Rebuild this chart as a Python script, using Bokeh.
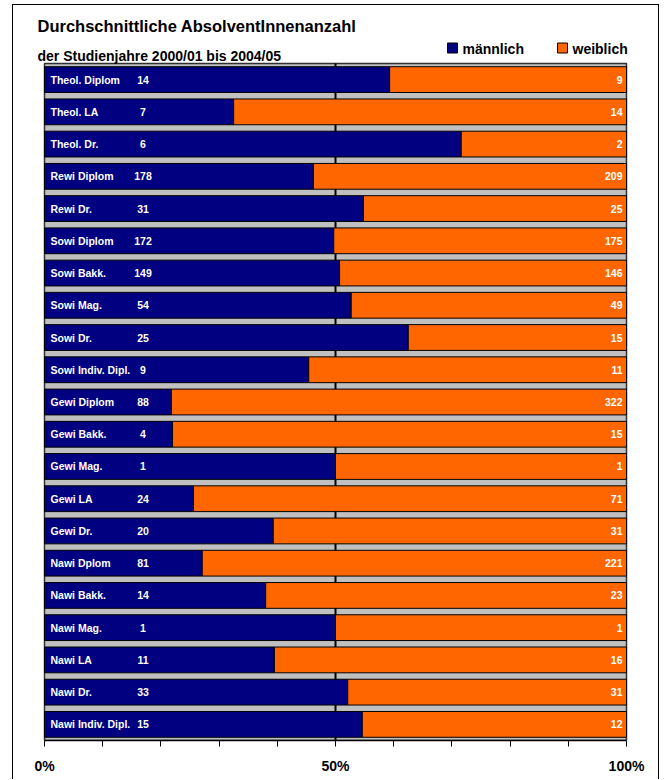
from bokeh.plotting import figure
from bokeh.models import Range1d, FixedTicker, ColumnDataSource
from bokeh.core.properties import value
from bokeh.embed import file_html
from bokeh.resources import INLINE

# ---------------- data ----------------
categories = ["Theol. Diplom", "Theol. LA", "Theol. Dr.", "Rewi Diplom", "Rewi Dr.",
              "Sowi Diplom", "Sowi Bakk.", "Sowi Mag.", "Sowi Dr.", "Sowi Indiv. Dipl.",
              "Gewi Diplom", "Gewi Bakk.", "Gewi Mag.", "Gewi LA", "Gewi Dr.",
              "Nawi Dplom", "Nawi Bakk.", "Nawi Mag.", "Nawi LA", "Nawi Dr.", "Nawi Indiv. Dipl."]
male = [14, 7, 6, 178, 31, 172, 149, 54, 25, 9, 88, 4, 1, 24, 20, 81, 14, 1, 11, 33, 15]
female = [9, 14, 2, 209, 25, 175, 146, 49, 15, 11, 322, 15, 1, 71, 31, 221, 23, 1, 16, 31, 12]
# share of male graduates in percent, as drawn (bars use unrounded averages)
male_share = [59.3, 32.5, 71.6, 46.2, 54.8, 49.7, 50.7, 52.7, 62.5, 45.4,
              21.8, 22.0, 50.0, 25.6, 39.3, 27.1, 38.0, 50.0, 39.5, 52.1, 54.6]
tick_values = [0, 10, 20, 30, 40, 50, 60, 70, 80, 90, 100]
tick_labels = {0: "0%", 50: "50%", 100: "100%"}
series_names = ["männlich", "weiblich"]
title_text = "Durchschnittliche AbsolventInnenanzahl"
subtitle_text = "der Studienjahre 2000/01 bis 2004/05"

NAVY = "#000080"
ORANGE = "#FF6600"
GRAY = "#C0C0C0"
FONT = "Liberation Sans"

# ---------------- geometry (page pixels) ----------------
FIG_LEFT, FIG_TOP = 13, 5          # canvas origin on page (margin + 1px border)
FIG_W, FIG_H = 647, 775
PLOT_L, PLOT_R, PLOT_T, PLOT_B = 44, 626, 63, 740
BOTTOM_BORDER = FIG_TOP + FIG_H - PLOT_B
XS = (PLOT_R - PLOT_L) / 100.0
NROW = len(categories)
YS = (PLOT_B - PLOT_T) / NROW


def px(x):
    return (x - PLOT_L) / XS


def py(y):
    return (y - PLOT_T) / YS - 0.5


x_range = Range1d(px(FIG_LEFT), px(FIG_LEFT + FIG_W))
y_range = Range1d(NROW - 0.5, py(FIG_TOP))

rows = list(range(NROW))
src = ColumnDataSource(dict(
    y=rows,
    cat=categories,
    m=[str(v) for v in male],
    f=[str(v) for v in female],
    share=male_share,
    zero=[0] * NROW,
    full=[100] * NROW,
))

p = figure(width=FIG_W, height=FIG_H, output_backend="svg", toolbar_location=None,
           title=None, y_axis_location=None,
           x_range=x_range, y_range=y_range,
           min_border_left=0, min_border_right=0, min_border_top=0,
           min_border_bottom=BOTTOM_BORDER)
p.margin = (4, 0, 0, 12)
p.styles = {"border-top": "1px solid #000000", "border-left": "1px solid #000000",
            "border-right": "1px solid #000000"}
p.background_fill_color = "white"
p.border_fill_color = "white"
p.outline_line_color = None
p.xgrid.visible = False
p.ygrid.visible = False

# plot area
p.quad(left=0, right=100, top=-0.5, bottom=NROW - 0.5, fill_color=GRAY,
       line_color="#303030", line_width=1.5)
p.segment(x0=50, y0=-0.5, x1=50, y1=NROW - 0.5, line_color="black", line_width=2)

p.hbar(y="y", left="zero", right="share", height=0.8, source=src,
       fill_color=NAVY, line_color="black", line_width=1)
p.hbar(y="y", left="share", right="full", height=0.8, source=src,
       fill_color=ORANGE, line_color="black", line_width=1)

common = dict(text_font=value(FONT), text_font_style="bold", text_color="white",
              text_font_size="10.5px", text_baseline="middle")
p.text(x=px(50), y="y", text="cat", source=src, text_align="left", **common)
p.text(x=px(142.5), y="y", text="m", source=src, text_align="center", **common)
p.text(x=px(622), y="y", text="f", source=src, text_align="right", **common)

# title, subtitle
p.text(x=[px(37)], y=[py(25.5)], text=[title_text], text_font=value(FONT),
       text_font_style="bold", text_font_size="16.5px", text_color="black",
       text_baseline="middle", text_align="left")
p.text(x=[px(37)], y=[py(55)], text=[subtitle_text], text_font=value(FONT),
       text_font_style="bold", text_font_size="14px", text_color="black",
       text_baseline="middle", text_align="left")

# legend
for sq_x, color, name in [(452, NAVY, series_names[0]), (562, ORANGE, series_names[1])]:
    p.scatter(x=[px(sq_x)], y=[py(47.5)], marker="square", size=10,
              fill_color=color, line_color="black", line_width=1)
    p.text(x=[px(sq_x + 10)], y=[py(48)], text=[name], text_font=value(FONT),
           text_font_style="bold", text_font_size="14px", text_color="black",
           text_baseline="middle", text_align="left")

ax = p.xaxis[0]
ax.bounds = (0, 100)
ax.ticker = FixedTicker(ticks=tick_values)
ax.major_label_overrides = {t: tick_labels.get(t, "") for t in tick_values}
ax.major_tick_out = 6
ax.major_tick_in = 0
ax.minor_tick_line_color = None
ax.axis_line_color = "black"
ax.axis_line_width = 1.5
ax.major_tick_line_color = "black"
ax.major_label_standoff = 11
ax.major_label_text_font = FONT
ax.major_label_text_font_style = "bold"
ax.major_label_text_font_size = "14px"
ax.major_label_text_color = "black"

open("out.html", "w").write(file_html(p, INLINE))
